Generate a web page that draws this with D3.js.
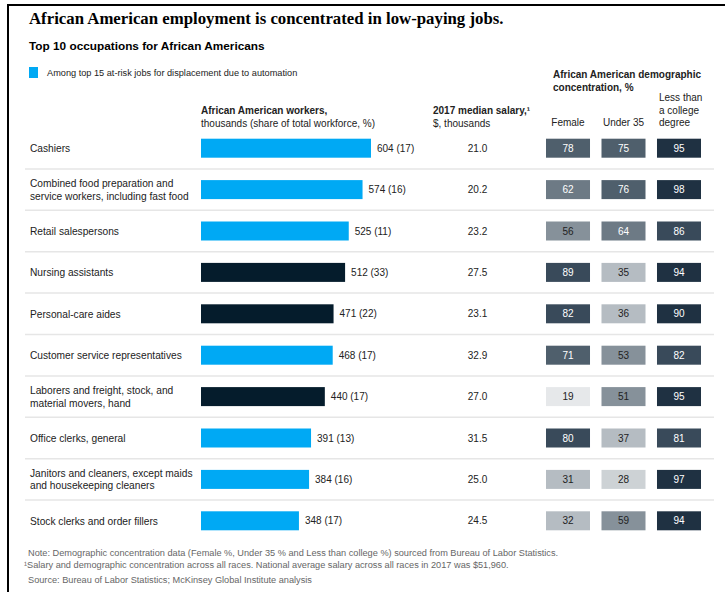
<!DOCTYPE html>
<html>
<head>
<meta charset="utf-8">
<script src="https://cdn.jsdelivr.net/npm/d3@7"></script>
<style>
  html, body { margin: 0; padding: 0; background: #fff; }
  svg { display: block; font-family: "Liberation Sans", Arial, sans-serif; }
</style>
</head>
<body>
<svg id="chart" width="725" height="592"></svg>
<script>
// Top 10 occupations for African Americans
const occupations = [
  ["Cashiers"],
  ["Combined food preparation and", "service workers, including fast food"],
  ["Retail salespersons"],
  ["Nursing assistants"],
  ["Personal-care aides"],
  ["Customer service representatives"],
  ["Laborers and freight, stock, and", "material movers, hand"],
  ["Office clerks, general"],
  ["Janitors and cleaners, except maids", "and housekeeping cleaners"],
  ["Stock clerks and order fillers"]
];
const workers = [604, 574, 525, 512, 471, 468, 440, 391, 384, 348];       // thousands
const workforceShare = [17, 16, 11, 33, 22, 17, 17, 13, 16, 17];         // % of total workforce
const atRisk = [true, true, true, false, false, true, false, true, true, true];
const salary = ["21.0", "20.2", "23.2", "27.5", "23.1", "32.9", "27.0", "31.5", "25.0", "24.5"];
const female = [78, 62, 56, 89, 82, 71, 19, 80, 31, 32];
const under35 = [75, 76, 64, 35, 36, 53, 51, 37, 28, 59];
const noCollege = [95, 98, 86, 94, 90, 82, 95, 81, 97, 94];
const demoColumns = ["Female", "Under 35", "Less than college"];

const svg = d3.select("#chart");
const ink = "#222";
const blue = "#00a9f4";
const navy = "#051c2c";

// frame
svg.append("line").attr("x1", 8).attr("x2", 8).attr("y1", 5).attr("y2", 592)
  .attr("stroke", "#000").attr("stroke-width", 2);
svg.append("line").attr("x1", 7).attr("x2", 725).attr("y1", 5).attr("y2", 5)
  .attr("stroke", "#000").attr("stroke-width", 2);

// titles
svg.append("text").attr("x", 29).attr("y", 24)
  .attr("font-family", "'Liberation Serif', 'DejaVu Serif', serif")
  .attr("font-weight", "bold").attr("font-size", 16.8).attr("fill", "#000")
  .text("African American employment is concentrated in low-paying jobs.");
svg.append("text").attr("x", 29).attr("y", 50)
  .attr("font-weight", "bold").attr("font-size", 11.8).attr("fill", "#000")
  .text("Top 10 occupations for African Americans");

// legend
svg.append("rect").attr("x", 29).attr("y", 67).attr("width", 9).attr("height", 11).attr("fill", blue);
svg.append("text").attr("x", 47).attr("y", 75.5).attr("font-size", 9.2).attr("fill", ink)
  .text("Among top 15 at-risk jobs for displacement due to automation");

// column headers
function header(x, y, lines, anchor) {
  const t = svg.append("text").attr("x", x).attr("y", y).attr("font-size", 10)
    .attr("fill", ink).attr("text-anchor", anchor || "start");
  lines.forEach((l, i) => {
    t.append("tspan").attr("x", x).attr("dy", i ? 12.5 : 0)
      .attr("font-weight", l.bold ? "bold" : "normal").text(l.text);
  });
}
header(201, 114, [{text: "African American workers,", bold: true}, {text: "thousands (share of total workforce, %)"}]);
header(433, 114, [{text: "2017 median salary,\u00b9", bold: true}, {text: "$, thousands"}]);
header(553, 78, [{text: "African American demographic", bold: true}, {text: "concentration, %", bold: true}]);

// scales
const y = d3.scaleBand().domain(d3.range(occupations.length)).range([127.5, 541.5]);
const x = d3.scaleLinear().domain([0, 700]).range([201, 398]);
const cellX = d3.scaleBand().domain(demoColumns).range([546, 701]).paddingInner(0.207).paddingOuter(0);
const shade = d3.scaleThreshold()
  .domain([25, 30, 40, 60, 70, 80, 90])
  .range(["#e6e8ea", "#cdd2d5", "#b5bcc2", "#86919a", "#6d7a85", "#4f5f6c", "#394a5a", "#1f3142"]);

// demographic column captions
svg.append("text").attr("x", cellX("Female") + cellX.bandwidth() / 2).attr("y", 126)
  .attr("text-anchor", "middle").attr("font-size", 10).attr("fill", ink).text("Female");
svg.append("text").attr("x", cellX("Under 35") + cellX.bandwidth() / 2).attr("y", 126)
  .attr("text-anchor", "middle").attr("font-size", 10).attr("fill", ink).text("Under 35");
header(cellX("Less than college") + 2, 101, [{text: "Less than"}, {text: "a college"}, {text: "degree"}]);

const barH = 19;
const rows = svg.append("g").selectAll("g").data(d3.range(occupations.length)).join("g");

// row separators
rows.filter(i => i < occupations.length - 1).append("line")
  .attr("x1", 25).attr("x2", 714)
  .attr("y1", i => y(i) + y.step()).attr("y2", i => y(i) + y.step())
  .attr("stroke", "#e6e6e6").attr("stroke-width", 1.5);

// occupation labels
rows.append("text").attr("x", 30).attr("font-size", 10.2).attr("fill", ink)
  .each(function(i) {
    const lines = occupations[i];
    const cy = y(i) + y.bandwidth() / 2;
    const t = d3.select(this);
    lines.forEach((l, k) => {
      t.append("tspan").attr("x", 30)
        .attr("y", cy + 3.7 + (k - (lines.length - 1) / 2) * 12.5).text(l);
    });
  });

// bars
rows.append("rect")
  .attr("x", x(0)).attr("y", i => y(i) + y.bandwidth() / 2 - barH / 2)
  .attr("width", i => x(workers[i]) - x(0)).attr("height", barH)
  .attr("fill", i => atRisk[i] ? blue : navy);
rows.append("text")
  .attr("x", i => x(workers[i]) + 6).attr("y", i => y(i) + y.bandwidth() / 2 + 3.6)
  .attr("font-size", 10).attr("fill", ink)
  .text(i => `${workers[i]} (${workforceShare[i]})`);

// salary
rows.append("text").attr("x", 477.5).attr("y", i => y(i) + y.bandwidth() / 2 + 3.6)
  .attr("text-anchor", "middle").attr("font-size", 10).attr("fill", ink)
  .text(i => salary[i]);

// demographic heat cells
const demoValues = [female, under35, noCollege];
demoColumns.forEach((col, c) => {
  rows.append("rect")
    .attr("x", cellX(col)).attr("y", i => y(i) + y.bandwidth() / 2 - barH / 2)
    .attr("width", cellX.bandwidth()).attr("height", barH)
    .attr("fill", i => shade(demoValues[c][i]));
  rows.append("text")
    .attr("x", cellX(col) + cellX.bandwidth() / 2).attr("y", i => y(i) + y.bandwidth() / 2 + 3.6)
    .attr("text-anchor", "middle").attr("font-size", 10)
    .attr("fill", i => demoValues[c][i] >= 60 ? "#fff" : ink)
    .text(i => demoValues[c][i]);
});

// notes
const notes = svg.append("g").attr("font-size", 9.2).attr("fill", "#666");
notes.append("text").attr("x", 28).attr("y", 556)
  .text("Note: Demographic concentration data (Female %, Under 35 % and Less than college %) sourced from Bureau of Labor Statistics.");
notes.append("text").attr("x", 24).attr("y", 568)
  .text("\u00b9Salary and demographic concentration across all races. National average salary across all races in 2017 was $51,960.");
notes.append("text").attr("x", 28).attr("y", 583)
  .text("Source: Bureau of Labor Statistics; McKinsey Global Institute analysis");
</script>
</body>
</html>
